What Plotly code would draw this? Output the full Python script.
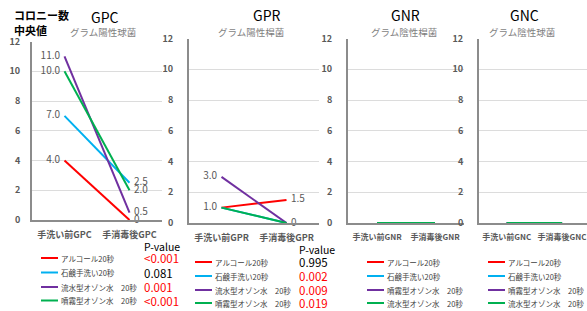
import plotly.graph_objects as go

W, H = 587, 311

# ---------------- data ----------------
panels = ["GPC", "GPR", "GNR", "GNC"]
subtitles = ["グラム陽性球菌", "グラム陽性桿菌", "グラム陰性桿菌", "グラム陰性球菌"]
cat_gpc = ["手洗い前GPC", "手消毒後GPC"]
cat_gpr = ["手洗い前GPR", "手消毒後GPR"]
cat_gnr = ["手洗い前GNR", "手消毒後GNR"]
cat_gnc = ["手洗い前GNC", "手消毒後GNC"]

names_gp = ["アルコール20秒", "石鹸手洗い20秒", "流水型オゾン水　20秒", "噴霧型オゾン水　20秒"]
names_gn = ["アルコール20秒", "石鹸手洗い20秒", "噴霧型オゾン水　20秒", "流水型オゾン水　20秒"]
colors = ["#FF0000", "#00B0F0", "#7030A0", "#00B050"]

gpc_before = [4.0, 7.0, 11.0, 10.0]
gpc_after = [0.0, 2.5, 0.5, 2.0]
gpr_before = [1.0, 1.0, 3.0, 1.0]
gpr_after = [1.5, 0.0, 0.0, 0.0]
gnr_before = [0.0, 0.0, 0.0, 0.0]
gnr_after = [0.0, 0.0, 0.0, 0.0]
gnc_before = [0.0, 0.0, 0.0, 0.0]
gnc_after = [0.0, 0.0, 0.0, 0.0]

pvalues_gpc = ["<0.001", "0.081", "0.001", "<0.001"]
pvalues_gpr = ["0.995", "0.002", "0.009", "0.019"]

y_ticks = [0, 2, 4, 6, 8, 10, 12]

# ---------------- layout helpers ----------------
FONT = "Noto Sans CJK JP"
GRAY = "#595959"
NB = "\u00a0"


def px(x):
    return x / W


def py(y):
    return 1 - y / H


panel_specs = [
    dict(cats=cat_gpc, b=gpc_before, a=gpc_after, names=names_gp, xd=(32, 162), yd=(41.5, 220),
         xr=[-0.5, 1.5], labels=True, so=8, xfs=9, title_x=105, sub_x=103, ty=17,
         leg_x=41, leg_rows=[258, 272.5, 287, 300.5], pv=pvalues_gpc, pv_x=142, pv_head_y=246),
    dict(cats=cat_gpr, b=gpr_before, a=gpr_after, names=names_gp, xd=(189, 319), yd=(38.5, 223),
         xr=[-0.5, 1.5], labels=True, so=12, xfs=9, title_x=267, sub_x=251, ty=15,
         leg_x=195, leg_rows=[262, 276, 290, 303], pv=pvalues_gpr, pv_x=297, pv_head_y=249),
    dict(cats=cat_gnr, b=gnr_before, a=gnr_after, names=names_gn, xd=(348, 464), yd=(38.5, 223),
         xr=[-0.5, 1.5], labels=False, so=12, xfs=8, title_x=405, sub_x=404, ty=15,
         leg_x=367, leg_rows=[262, 276, 290, 303], pv=None),
    dict(cats=cat_gnc, b=gnc_before, a=gnc_after, names=names_gn, xd=(479, 587), yd=(38.5, 223),
         xr=[-0.5, 1.45], labels=False, so=12, xfs=8, title_x=524, sub_x=522, ty=15,
         leg_x=488, leg_rows=[262, 276, 290, 303], pv=None),
]


def fmt(v):
    return "0" if v == 0 else f"{v:.1f}"


fig = go.Figure()
annotations = []
shapes = []
layout = {}

for i, spec in enumerate(panel_specs):
    n = "" if i == 0 else str(i + 1)
    xa, ya = "x" + n, "y" + n
    seen_b, seen_a = set(), set()
    for k in range(4):
        vb, va = spec["b"][k], spec["a"][k]
        tb = ta = ""
        if spec["labels"]:
            if vb not in seen_b:
                tb = fmt(vb) + NB * 2
                seen_b.add(vb)
            if va not in seen_a:
                ta = NB * 2 + fmt(va)
                seen_a.add(va)
        fig.add_trace(go.Scatter(
            x=spec["cats"], y=[vb, va], xaxis=xa, yaxis=ya,
            mode="lines+text", text=[tb, ta],
            textposition=["middle left", "middle right"],
            textfont=dict(family=FONT, size=10, color=GRAY),
            line=dict(color=colors[k], width=2),
            name=spec["names"][k], showlegend=False, cliponaxis=False,
        ))
    layout["xaxis" + n] = dict(
        domain=[px(spec["xd"][0]), px(spec["xd"][1])], anchor=ya,
        type="category", categoryorder="array", categoryarray=spec["cats"],
        range=spec["xr"], showgrid=False, zeroline=False, automargin=False, tickangle=0,
        showline=True, linecolor="#8c8c8c", linewidth=2, ticks="", ticklabelstandoff=5,
        tickfont=dict(family=FONT, size=spec["xfs"], color=GRAY, weight="bold"),
        fixedrange=True,
    )
    layout["yaxis" + n] = dict(
        domain=[py(spec["yd"][1]), py(spec["yd"][0])], anchor=xa,
        range=[0, 12], tickvals=y_ticks, showgrid=True, gridcolor="#dcdcdc", gridwidth=1,
        zeroline=False, showline=True, linecolor="#8c8c8c", linewidth=2, ticks="",
        automargin=False, ticklabelstandoff=spec["so"],
        tickfont=dict(family=FONT, size=9, color=GRAY, weight="bold"),
        fixedrange=True,
    )
    annotations.append(dict(x=px(spec["title_x"]), y=py(spec["ty"]), xref="paper", yref="paper",
                            text=panels[i], showarrow=False, xanchor="center", yanchor="middle",
                            font=dict(family=FONT, size=14, color="#000000")))
    annotations.append(dict(x=px(spec["sub_x"]), y=py(32), xref="paper", yref="paper",
                            text=subtitles[i], showarrow=False, xanchor="center", yanchor="middle",
                            font=dict(family=FONT, size=9.5, color="#7f7f7f")))
    for k in range(4):
        yy = spec["leg_rows"][k]
        shapes.append(dict(type="line", xref="paper", yref="paper",
                           x0=px(spec["leg_x"]), x1=px(spec["leg_x"] + 17),
                           y0=py(yy), y1=py(yy), line=dict(color=colors[k], width=2)))
        annotations.append(dict(x=px(spec["leg_x"] + 18), y=py(yy), xref="paper", yref="paper",
                                text=spec["names"][k], showarrow=False, xanchor="left",
                                yanchor="middle",
                                font=dict(family=FONT, size=7.5, color="#404040")))
    if spec["pv"]:
        annotations.append(dict(x=px(spec["pv_x"]), y=py(spec["pv_head_y"]), xref="paper",
                                yref="paper", text="P-value", showarrow=False, xanchor="left",
                                yanchor="middle", font=dict(family=FONT, size=10.5, color="#000000")))
        for k, pv in enumerate(spec["pv"]):
            val = 0.0 if pv.startswith("<") else float(pv)
            col = "#FF0000" if val < 0.05 else "#000000"
            annotations.append(dict(x=px(spec["pv_x"]), y=py(spec["leg_rows"][k]), xref="paper",
                                    yref="paper", text=pv, showarrow=False, xanchor="left",
                                    yanchor="middle", font=dict(family=FONT, size=11.5, color=col)))

annotations.append(dict(x=px(12), y=py(15), xref="paper", yref="paper", text="<b>コロニー数</b>",
                        showarrow=False, xanchor="left", yanchor="middle",
                        font=dict(family=FONT, size=11, color="#000000")))
annotations.append(dict(x=px(12), y=py(29.5), xref="paper", yref="paper", text="<b>中央値</b>",
                        showarrow=False, xanchor="left", yanchor="middle",
                        font=dict(family=FONT, size=11, color="#000000")))

fig.update_layout(
    template="none",
    width=W, height=H, margin=dict(l=0, r=0, t=0, b=0, pad=0),
    paper_bgcolor="white", plot_bgcolor="white",
    showlegend=False, annotations=annotations, shapes=shapes,
    font=dict(family=FONT),
    **layout,
)

fig.write_html("out.html", config={"displayModeBar": False},
               post_script="document.body.style.margin='0';document.body.style.overflow='hidden';")
